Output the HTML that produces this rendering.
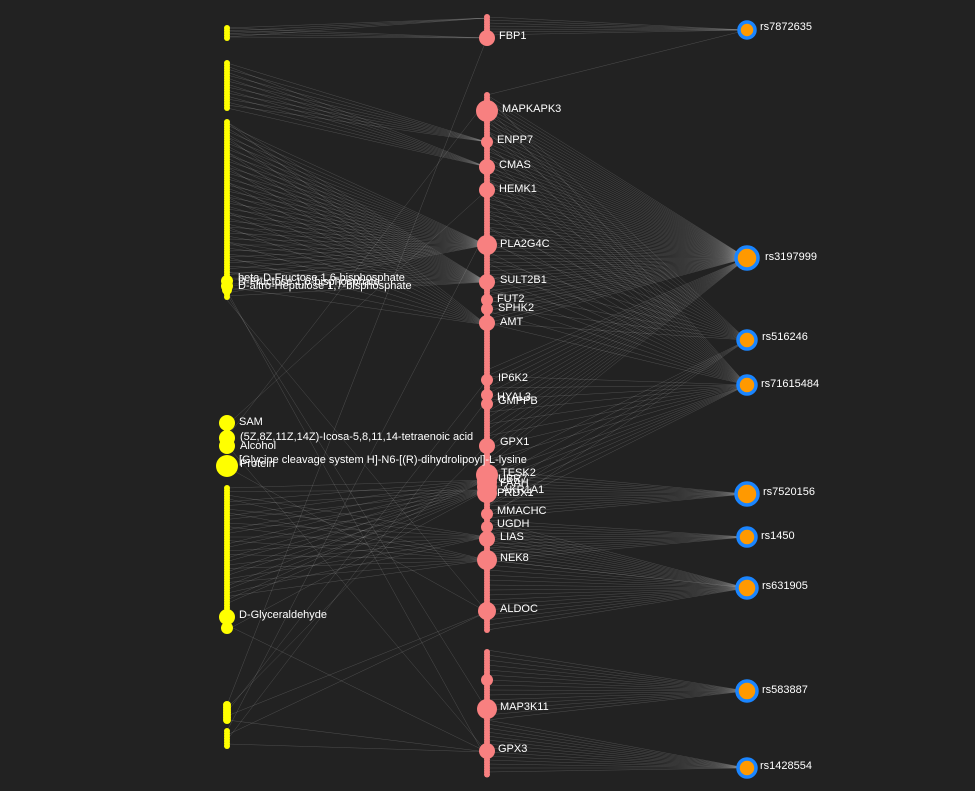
<!DOCTYPE html><html><head><meta charset="utf-8"><style>
html,body{margin:0;padding:0;background:#222222;}
svg{display:block}
text{font-family:"Liberation Sans",Arial,sans-serif;font-size:11px;fill:#fff;}
</style></head><body>
<svg id="s" width="975" height="791" xmlns="http://www.w3.org/2000/svg">
<rect width="975" height="791" fill="#222222"/>
<g id="edges" stroke="#ffffff" stroke-opacity="0.25" stroke-width="0.4"></g>
<g id="nodes"></g>
<g id="labels">
<text x="499" y="39">FBP1</text>
<text x="502" y="112">MAPKAPK3</text>
<text x="497" y="143">ENPP7</text>
<text x="499" y="168">CMAS</text>
<text x="499" y="192">HEMK1</text>
<text x="500" y="247">PLA2G4C</text>
<text x="500" y="283">SULT2B1</text>
<text x="497" y="302">FUT2</text>
<text x="498" y="311">SPHK2</text>
<text x="500" y="325">AMT</text>
<text x="498" y="381">IP6K2</text>
<text x="497" y="400">HYAL3</text>
<text x="498" y="404">GMPPB</text>
<text x="500" y="445">GPX1</text>
<text x="501" y="476">TESK2</text>
<text x="498" y="482">UBR7</text>
<text x="500" y="486">FAAH</text>
<text x="502" y="493">AKR1A1</text>
<text x="497" y="496">PRDX1</text>
<text x="497" y="514">MMACHC</text>
<text x="497" y="527">UGDH</text>
<text x="500" y="540">LIAS</text>
<text x="500" y="561">NEK8</text>
<text x="500" y="612">ALDOC</text>
<text x="500" y="710">MAP3K11</text>
<text x="498" y="752">GPX3</text>
<text x="760" y="30">rs7872635</text>
<text x="765" y="260">rs3197999</text>
<text x="762" y="340">rs516246</text>
<text x="761" y="387">rs71615484</text>
<text x="763" y="495">rs7520156</text>
<text x="761" y="539">rs1450</text>
<text x="762" y="589">rs631905</text>
<text x="762" y="693">rs583887</text>
<text x="760" y="769">rs1428554</text>
<text x="238" y="281">beta-D-Fructose 1,6-bisphosphate</text>
<text x="238" y="285">D-Fructose 1,6-bisphosphate</text>
<text x="238" y="289">D-altro-Heptulose 1,7-bisphosphate</text>
<text x="239" y="425">SAM</text>
<text x="240" y="440">(5Z,8Z,11Z,14Z)-Icosa-5,8,11,14-tetraenoic acid</text>
<text x="240" y="449">Alcohol</text>
<text x="239" y="463">[Glycine cleavage system H]-N6-[(R)-dihydrolipoyl]-L-lysine</text>
<text x="240" y="467">Protein</text>
<text x="239" y="618">D-Glyceraldehyde</text>
</g>
</svg>
<script>
var E=document.getElementById('edges'),N=document.getElementById('nodes'),NS='http://www.w3.org/2000/svg';
function ln(a,b,c,d){var l=document.createElementNS(NS,'line');l.setAttribute('x1',a);l.setAttribute('y1',b);l.setAttribute('x2',c);l.setAttribute('y2',d);E.appendChild(l);}
function ci(x,y,r,f,s,sw){var c=document.createElementNS(NS,'circle');c.setAttribute('cx',x);c.setAttribute('cy',y);c.setAttribute('r',r);c.setAttribute('fill',f);if(s){c.setAttribute('stroke',s);c.setAttribute('stroke-width',sw);}N.appendChild(c);}
var LX=227,MX=487,RX=747;
var Y='#ffff00',P='#f88080';
var rs={a:30,b:258,c:340,d:385,e:494,f:537,g:588,h:691,i:768};
function rng(a,b,st){var r=[];for(var y=a;y<=b;y+=st)r.push(y);return r;}
rng(17,37,3).forEach(function(y){ln(MX,y,RX,rs.a);});
ln(MX,95,RX,rs.a);
rng(95,330,4).forEach(function(y,i){ln(MX,y,RX,rs.b); if(i%3==0)ln(MX,y,RX,rs.d); if(i%4==1)ln(MX,y,RX,rs.c);});
rng(370,470,6).forEach(function(y,i){ln(MX,y,RX,rs.b); if(i%2)ln(MX,y,RX,rs.d);});
rng(470,520,4).forEach(function(y,i){ln(MX,y,RX,rs.e); if(i%2)ln(MX,y,RX,rs.d); if(i%3==0)ln(MX,y,RX,rs.c);});
rng(520,560,4).forEach(function(y){ln(MX,y,RX,rs.f);ln(MX,y,RX,rs.g);});
rng(560,630,5).forEach(function(y){ln(MX,y,RX,rs.g);});
rng(650,720,5).forEach(function(y){ln(MX,y,RX,rs.h);});
rng(720,775,4).forEach(function(y){ln(MX,y,RX,rs.i);});
rng(28,38,3).forEach(function(y){ln(LX,y,MX,38);ln(LX,y,MX,18);});
rng(63,110,3).forEach(function(y,i){ln(LX,y,MX,i%2?167:142);});
rng(122,297,3).forEach(function(y,i){ln(LX,y,MX,i%2?245:282);if(i%5==0)ln(LX,y,MX,325);});
rng(488,605,3.5).forEach(function(y,i){ln(LX,y,MX,[480,490,537,560][i%4]);});
[[705,38],[708,445],[712,380],[716,612],[720,752],[731,230],[735,612],[740,400],[744,752],[630,490],[625,752],[467,612],[445,752],[300,612],[295,710],[291,760],[425,190],[437,100]].forEach(function(p){ln(LX,p[0],MX,p[1]);});
rng(28,38,2.5).forEach(function(y){ci(LX,y,3,Y);});
rng(63,110,2.5).forEach(function(y){ci(LX,y,3,Y);});
rng(122,297,2.5).forEach(function(y){ci(LX,y,3,Y);});
ci(LX,281,6,Y);ci(LX,286,6,Y);ci(LX,290,5,Y);
ci(LX,423,8,Y);ci(LX,438,8,Y);ci(LX,446,8,Y);ci(LX,466,11,Y);
rng(488,632,2.5).forEach(function(y){ci(LX,y,3,Y);});
ci(LX,617,8,Y);ci(LX,628,6,Y);
rng(705,720,2.5).forEach(function(y){ci(LX,y,4,Y);});
rng(731,746,2.5).forEach(function(y){ci(LX,y,3,Y);});
rng(17,37,2.5).forEach(function(y){ci(MX,y,3,P);});
rng(95,630,2.5).forEach(function(y){ci(MX,y,3,P);});
rng(652,775,2.5).forEach(function(y){ci(MX,y,3,P);});
[[38,8],[111,11],[142,6],[167,8],[190,8],[245,10],[282,8],[300,6],[309,6],[323,8],[380,6],[395,6],[404,6],[446,8],[475,11],[482,10],[487,10],[493,10],[514,6],[527,6],[539,8],[560,10],[611,9],[680,6],[709,10],[751,8]].forEach(function(p){ci(MX,p[0],p[1],P);});
[[rs.a,8],[rs.b,11],[rs.c,9],[rs.d,9],[rs.e,11],[rs.f,9],[rs.g,10],[rs.h,10],[rs.i,9]].forEach(function(p){ci(RX,p[0],p[1],'#ff9900','#1a85ff',3.5);});
</script>
</body></html>
